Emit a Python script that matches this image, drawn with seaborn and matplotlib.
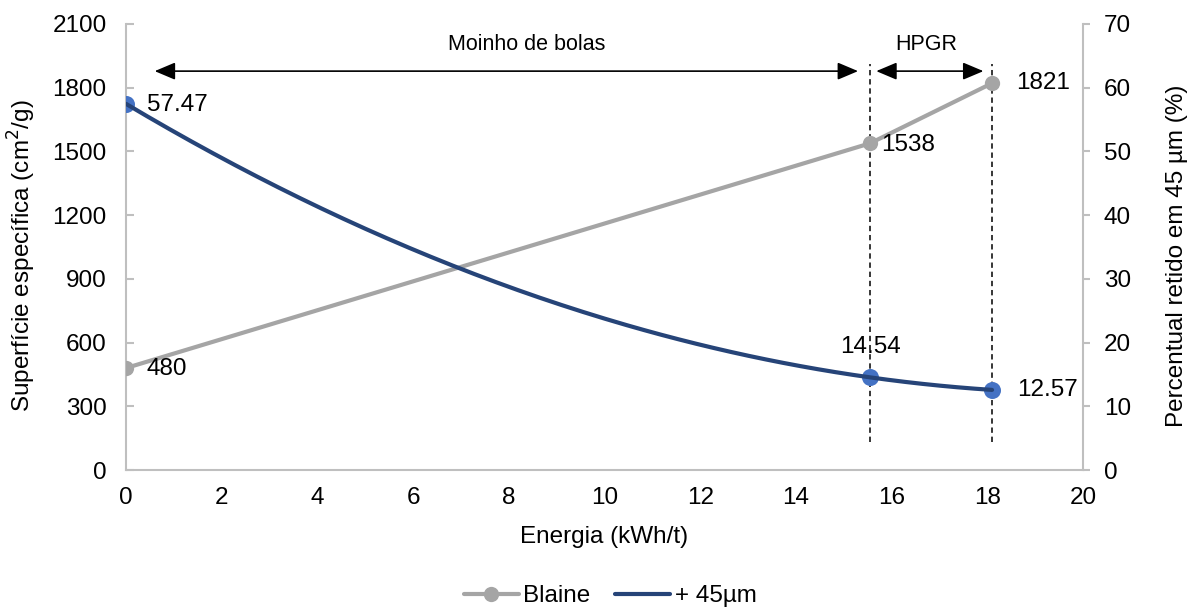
import numpy as np
import pandas as pd
import matplotlib
matplotlib.use("Agg")
import matplotlib.pyplot as plt
from matplotlib.ticker import MultipleLocator
import seaborn as sns

# Energy input (kWh/t) at each grinding stage
energia = [0.0, 15.55, 18.1]
# Blaine specific surface (cm²/g)
blaine = [480, 1538, 1821]
# Material retained on the 45 µm sieve (%)
retido_45 = [57.47, 14.54, 12.57]

left_ticks = [0, 300, 600, 900, 1200, 1500, 1800, 2100]
right_ticks = [0, 10, 20, 30, 40, 50, 60, 70]
x_ticks = [0, 2, 4, 6, 8, 10, 12, 14, 16, 18, 20]

sns.set_style("white")
plt.rcParams["font.family"] = ["Liberation Sans", "DejaVu Sans"]
plt.rcParams["font.size"] = 17
plt.rcParams["text.color"] = "black"
plt.rcParams["axes.labelcolor"] = "black"

GREY = "#A5A5A5"
NAVY = "#264478"
BLUE = "#4472C4"
AXIS = "#BFBFBF"
FS = 17.5

fig = plt.figure(figsize=(11.94, 6.07), dpi=100)
ax = fig.add_axes([0.1055, 0.2257, 0.8015, 0.7348])
ax2 = ax.twinx()

df_b = pd.DataFrame({"Energia": energia, "Blaine": blaine})
sns.lineplot(data=df_b, x="Energia", y="Blaine", ax=ax, color=GREY, lw=3,
             marker="o", markersize=11, markeredgewidth=0, markeredgecolor=GREY,
             label="Blaine", zorder=3)

# smooth curve for the +45 µm series (quadratic through the three measurements)
coef = np.polyfit(energia, retido_45, 2)
xs = np.linspace(energia[0], energia[-1], 200)
df_c = pd.DataFrame({"Energia": xs, "Retido": np.polyval(coef, xs)})
sns.scatterplot(x=energia, y=retido_45, ax=ax2, color=BLUE, s=150,
                linewidth=0, zorder=3, legend=False)
sns.lineplot(data=df_c, x="Energia", y="Retido", ax=ax2, color=NAVY, lw=3,
             label="+ 45µm", zorder=4)

# axes limits and ticks
ax.set_xlim(0, 20)
ax.set_ylim(0, 2100)
ax2.set_ylim(0, 70)
ax.set_xticks(x_ticks)
ax.xaxis.set_minor_locator(MultipleLocator(1))
ax.set_yticks(left_ticks)
ax2.set_yticks(right_ticks)

for a in (ax, ax2):
    a.spines["top"].set_visible(False)
    for s in ("left", "right", "bottom"):
        a.spines[s].set_color(AXIS)
        a.spines[s].set_linewidth(1.5)
ax.spines["right"].set_visible(False)
ax2.spines["left"].set_visible(False)
ax2.spines["bottom"].set_visible(False)

ax.tick_params(axis="x", which="both", direction="in", length=6, width=1.5,
               color=AXIS, pad=12, labelsize=FS, labelcolor="black")
ax.tick_params(axis="y", direction="in", length=6, width=1.5, color=AXIS,
               pad=14, labelsize=FS, left=True, labelcolor="black")
ax2.tick_params(axis="y", direction="out", length=5, width=1.5, color=AXIS,
                pad=10, labelsize=FS, right=True, labelcolor="black")

ax.set_xlabel("Energia (kWh/t)", fontsize=FS)
ax.set_ylabel("Superfície específica (cm$^2$/g)", fontsize=FS)
ax2.set_ylabel("Percentual retido em 45 µm (%)", fontsize=FS)
ax.xaxis.set_label_coords(0.5, -0.125)
ax.yaxis.set_label_coords(-0.092, 0.481)
ax2.yaxis.set_label_coords(1.087, 0.481)

# value labels
b_offsets = [(15, -1), (8, -1), (17, 0)]
for x, v, off in zip(energia, blaine, b_offsets):
    ax.annotate(f"{v:.0f}", (x, v), xytext=off, textcoords="offset points",
                ha="left", va="center", fontsize=FS, color="black")
r_offsets = [((15, -1), "left"), ((0, 22), "center"), ((18, 0), "left")]
for x, v, (off, ha) in zip(energia, retido_45, r_offsets):
    ax2.annotate(f"{v:.2f}", (x, v), xytext=off, textcoords="offset points",
                 ha=ha, va="center", fontsize=FS, color="black")

# stage boundaries and range arrows
ax.vlines(energia[1:], 130, 1910, colors="black", linestyles=(0, (3.5, 2.5)),
          lw=1.1, zorder=2)
arrow = dict(arrowstyle="<|-|>,head_length=0.9,head_width=0.38",
             mutation_scale=14, color="black", lw=1.2, shrinkA=0, shrinkB=0)
ax.annotate("", xy=(0.6, 1878), xytext=(15.3, 1878), arrowprops=arrow)
ax.annotate("", xy=(15.68, 1878), xytext=(17.92, 1878), arrowprops=arrow)
ax.text(8.38, 2003, "Moinho de bolas", ha="center", va="center", fontsize=15.5)
ax.text(16.73, 2003, "HPGR", ha="center", va="center", fontsize=15.5)

# shared legend below the plot
h1, l1 = ax.get_legend_handles_labels()
h2, l2 = ax2.get_legend_handles_labels()
ax.get_legend().remove()
ax2.get_legend().remove()
fig.legend(h1 + h2, l1 + l2, loc="center", bbox_to_anchor=(0.511, 0.018),
           ncol=2, frameon=False, fontsize=FS, handlelength=2.25,
           handletextpad=0.2, columnspacing=1.0, labelcolor="black")

fig.savefig("out.png", dpi=100)
